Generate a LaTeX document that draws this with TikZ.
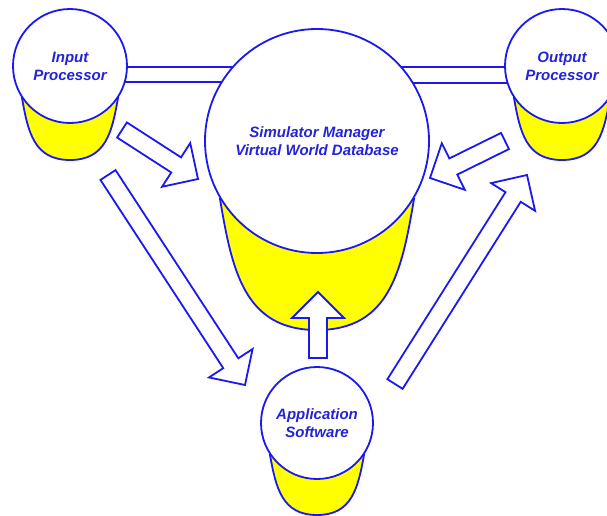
\documentclass[tikz,border=0pt]{standalone}
\usepackage{fontspec}
\setmainfont{Liberation Sans}
\usetikzlibrary{calc}
\pgfdeclarelayer{bg}
\pgfsetlayers{bg,main}
\definecolor{lineblue}{RGB}{25,25,240}
\definecolor{txtblue}{RGB}{35,35,215}
\definecolor{cylyellow}{RGB}{255,255,0}
\tikzset{
  outline/.style={draw=lineblue, line width=1.8pt},
  cyltop/.style={circle, outline, fill=white, inner sep=0pt, align=center,
    text=txtblue, font=\bfseries\itshape\fontsize{15}{18}\selectfont},
  cylbody/.style={outline, fill=cylyellow},
  barbox/.style={outline, fill=white},
  blockarrow/.style={outline, fill=white, line join=miter},
}
% body of a cylinder below circle #1: contact (+-#2,#3), controls (+-#4,#5) and (+-#6,#7), bottom (0,#7)
\newcommand\cylbodyat[7]{%
  \path[cylbody, shift={(#1)}] (-#2,#3) .. controls (-#4,#5) and (-#6,#7) .. (0,#7)
    .. controls (#6,#7) and (#4,#5) .. (#2,#3) -- cycle;}
% hollow block arrow from coordinate #1 (tail) to coordinate #2 (tip)
\newcommand\blockarr[2]{%
  \coordinate (ba-h) at ($(#2)!26pt!(#1)$);
  \draw[blockarrow] ($(#1)!9pt!90:(#2)$) -- ($(ba-h)!9pt!90:(#2)$) -- ($(ba-h)!26pt!90:(#2)$)
    -- (#2) -- ($(ba-h)!26pt!-90:(#2)$) -- ($(ba-h)!9pt!-90:(#2)$) -- ($(#1)!9pt!-90:(#2)$) -- cycle;}
\begin{document}
\begin{tikzpicture}[x=1pt, y=-1pt]
\useasboundingbox (0,0) rectangle (607,515);
\clip (0,0) rectangle (607,515);

\coordinate (cin) at (70,66);
\coordinate (cout) at (562,66);
\coordinate (cmain) at (317,141);
\coordinate (capp) at (317,423);

\node[cyltop, minimum size=114pt] (inp) at (cin) {Input\\Processor};
\node[cyltop, minimum size=114pt] (outp) at (cout) {Output\\Processor};
\node[cyltop, minimum size=224pt] (mgr) at (cmain) {Simulator Manager\\Virtual World Database};
\node[cyltop, minimum size=112pt] (app) at (capp) {Application\\Software};

\begin{pgfonlayer}{bg}
  \fill[white] (0,0) rectangle (607,515);
  \path[barbox] ($(inp.center)+(0,1)$) rectangle ($(mgr.center)+(0,-59)$);
  \path[barbox] ($(mgr.center)+(0,-74)$) rectangle ($(outp.center)+(0,17)$);
  \cylbodyat{inp.center}{48}{32}{42}{66}{36}{94}
  \cylbodyat{outp.center}{48}{32}{42}{66}{36}{94}
  \cylbodyat{app.center}{47}{32}{41}{65}{35}{92}
  \cylbodyat{mgr.center}{97}{58}{85}{129}{73}{189}
\end{pgfonlayer}

\coordinate (a1t) at (122,130);  \coordinate (a1h) at (198,179);
\coordinate (a2t) at (108,175);  \coordinate (a2h) at (245,385);
\coordinate (a3t) at (505,141);  \coordinate (a3h) at (430,178);
\coordinate (a4t) at (395,384);  \coordinate (a4h) at (527,175);
\coordinate (a5t) at (318,358);  \coordinate (a5h) at (318,292);
\blockarr{a1t}{a1h}
\blockarr{a2t}{a2h}
\blockarr{a3t}{a3h}
\blockarr{a4t}{a4h}
\blockarr{a5t}{a5h}
\end{tikzpicture}
\end{document}
